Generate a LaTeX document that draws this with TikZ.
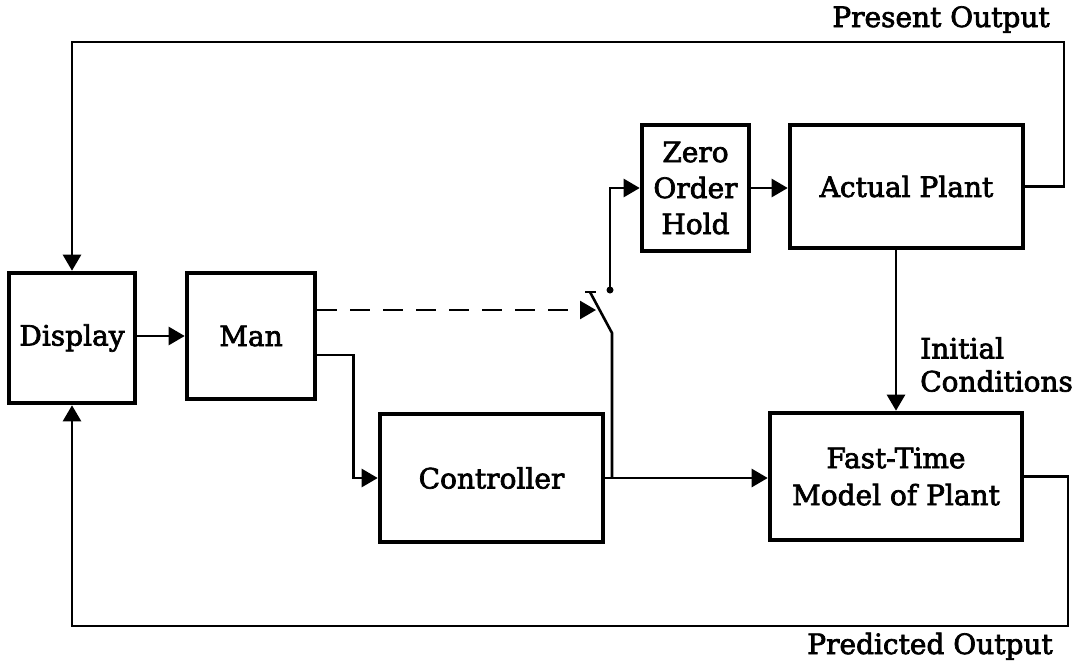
\documentclass[tikz,border=0pt]{standalone}
\usepackage{fontspec}
\setmainfont{DejaVu Serif}[FakeBold=2.5]
\usetikzlibrary{arrows.meta}
\begin{document}
\begin{tikzpicture}[x=1pt,y=-1pt,
  txt/.style={font=\fontsize{28}{36}\selectfont},
  blk/.style={txt, draw, line width=4.6pt, inner sep=0pt, align=center},
  wire/.style={line width=2.6pt},
  arr/.style={wire, -{Triangle[length=16pt,width=18pt]}},
  lbl/.style={txt, inner sep=0pt}]
\useasboundingbox (0,0) rectangle (1086,667);
\fill[white] (0,0) rectangle (1086,667);

% blocks
\node[blk, minimum width=126, minimum height=130] (disp) at (72,338) {Display};
\node[blk, minimum width=128, minimum height=126] (man) at (251,336) {Man};
\node[blk, minimum width=223, minimum height=128] (ctrl) at (491.5,478) {Controller};
\node[blk, minimum width=107, minimum height=126] (zoh) at (695.5,188) {Zero\\Order\\Hold};
\node[blk, minimum width=233, minimum height=123] (plant) at (906.5,186.5) {Actual Plant};
\node[blk, minimum width=252, minimum height=127, font=\fontsize{28}{37}\selectfont] (model) at (896,476.5) {Fast-Time\\Model of Plant};

% labels
\node[lbl, anchor=base] (pres) at (941,27) {Present Output};
\node[lbl, anchor=base] (pred) at (930,654) {Predicted Output};
\node[lbl, anchor=north west, align=left, font=\fontsize{28}{33}\selectfont] (ic) at (920,337) {Initial\\Conditions};

% switch
\coordinate (swIn) at (596,310);
\coordinate (bladeTop) at (590,292);
\coordinate (pivot) at (612,333);
\node[circle, fill, inner sep=0pt, minimum size=7pt] (contact) at (610,290) {};
\coordinate (tr) at (1064,42);
\coordinate (br) at (1068,626);

% connectors
\draw[arr] (man.west -| disp.east) -- (man.west);
\draw[arr, dash pattern=on 20pt off 13pt] (man.east |- swIn) -- (swIn);
\draw[wire] (585,292) -- (596,292);
\draw[wire] (bladeTop) -- (pivot) -- (pivot |- ctrl.east);
\draw[arr] (contact.center) |- (zoh.west);
\draw[arr] ([yshift=-19pt]man.east) -- ++(36,0) |- (ctrl.west);
\draw[arr] (ctrl.east) -- (ctrl.east -| model.west);
\draw[arr] (zoh.east) -- (zoh.east -| plant.west);
\draw[arr] (plant.south -| model.north) -- (model.north);
\draw[arr] (plant.east) -| (tr) -| (disp.north);
\draw[arr] (model.east) -| (br) -| (disp.south);
\end{tikzpicture}
\end{document}
